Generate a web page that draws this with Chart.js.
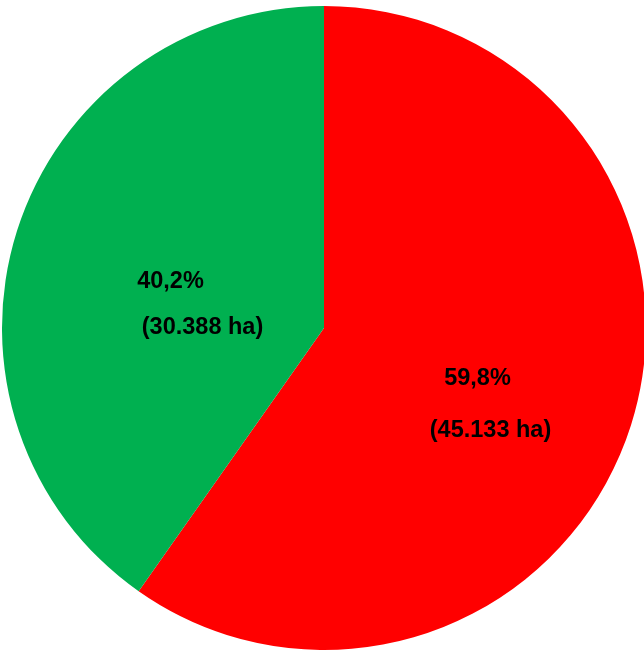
<!DOCTYPE html>
<html>
<head>
<meta charset="utf-8">
<script src="https://cdn.jsdelivr.net/npm/chart.js@4"></script>
<style>
    html, body { margin: 0; padding: 0; background: #fff; overflow: hidden; }
    #wrap { position: absolute; left: 0; top: 0; width: 648px; height: 650px; }
</style>
</head>
<body>
<div id="wrap"><canvas id="pieChart" width="648" height="650"></canvas></div>
<script>
// Données
const categories = ['Rouge', 'Vert'];
const areas = [45133, 30388];          // ha
const percents = ['59,8%', '40,2%'];
const areaLabels = ['(45.133 ha)', '(30.388 ha)'];
const colors = ['#FF0000', '#00B050'];
// décalage de la 2e ligne par rapport à la 1re (px)
const secondLineShift = [[13, 52], [32, 46]];

// Étiquettes dessinées sur chaque part
const sliceLabels = {
    id: 'sliceLabels',
    afterDatasetsDraw(chart) {
        const ctx = chart.ctx;
        const meta = chart.getDatasetMeta(0);
        ctx.save();
        ctx.font = "bold 23.5px 'Liberation Sans', Arial, sans-serif";
        ctx.fillStyle = '#000';
        ctx.textAlign = 'center';
        ctx.textBaseline = 'middle';
        meta.data.forEach((arc, i) => {
            const p = arc.getProps(['x', 'y', 'startAngle', 'endAngle', 'outerRadius']);
            const mid = (p.startAngle + p.endAngle) / 2;
            const r = p.outerRadius * 0.5;
            const x = p.x + Math.cos(mid) * r;
            const y = p.y + Math.sin(mid) * r + 2;
            ctx.fillText(percents[i], x, y);
            ctx.fillText(areaLabels[i], x + secondLineShift[i][0], y + secondLineShift[i][1]);
        });
        ctx.restore();
    }
};

new Chart(document.getElementById('pieChart').getContext('2d'), {
    type: 'pie',
    data: {
        labels: categories,
        datasets: [{
            data: areas,
            backgroundColor: colors,
            borderWidth: 0
        }]
    },
    options: {
        responsive: false,
        animation: false,
        layout: { padding: { top: 6, bottom: 0, left: 0, right: 0 } },
        plugins: {
            legend: { display: false },
            tooltip: { enabled: false }
        }
    },
    plugins: [sliceLabels]
});
</script>
</body>
</html>
